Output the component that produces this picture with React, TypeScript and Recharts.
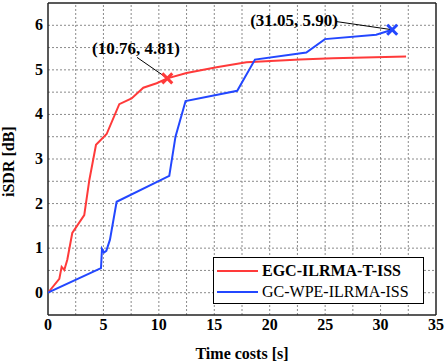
import {
  ComposedChart,
  Line,
  XAxis,
  YAxis,
  ReferenceDot,
  ReferenceLine,
} from "recharts";

const redX = [0, 1.02, 1.23, 1.47, 1.74, 2.19, 3.27, 3.73, 4.33, 5.29, 6.43, 7.54, 8.6, 9.8, 10.76, 12.5, 15.2, 17.9, 22.7, 25.7, 32.3];
const redY = [0, 0.31, 0.58, 0.51, 0.74, 1.34, 1.74, 2.53, 3.32, 3.56, 4.23, 4.36, 4.6, 4.7, 4.81, 4.93, 5.06, 5.17, 5.23, 5.26, 5.3];

const blueX = [0, 4.78, 4.87, 5.05, 5.26, 5.59, 6.19, 10.94, 11.5, 12.41, 17.07, 18.67, 23.3, 24.98, 29.6, 31.05];
const blueY = [0, 0.55, 0.98, 0.9, 0.94, 1.19, 2.04, 2.62, 3.5, 4.3, 4.53, 5.23, 5.39, 5.69, 5.79, 5.9];

const xTicks = [0, 5, 10, 15, 20, 25, 30, 35];
const yTicks = [0, 1, 2, 3, 4, 5, 6];
const xGrid = [2.5, 5, 7.5, 10, 12.5, 15, 17.5, 20, 22.5, 25, 27.5, 30, 32.5];
const yGrid = [0, 0.5, 1, 1.5, 2, 2.5, 3, 3.5, 4, 4.5, 5, 5.5, 6];
const X_DOMAIN = [0, 35];
const Y_DOMAIN = [-0.5, 6.5];

const seriesNames = ["EGC-ILRMA-T-ISS", "GC-WPE-ILRMA-ISS"];
const highlights = [
  { x: 10.76, y: 4.81, label: "(10.76, 4.81)", lx: 7.93, ly: 5.46, ax: 8.03, ay: 5.28 },
  { x: 31.05, y: 5.9, label: "(31.05, 5.90)", lx: 22.2, ly: 6.085, ax: 25.97, ay: 6.085 },
];

const RED = "#ff3a3a";
const BLUE = "#2347ff";
const GRID = "#8a8a8a";
const FONT = "Liberation Serif";
const txt = { fontFamily: FONT, fontWeight: 700, fontSize: 16 };

const redData = redX.map((x, i) => ({ x, y: redY[i] }));
const blueData = blueX.map((x, i) => ({ x, y: blueY[i] }));

// grid drawn as two-point line series so they go through the chart scales
const gridRows = [
  ...xGrid.map((t) => [{ x: t, y: Y_DOMAIN[0] }, { x: t, y: Y_DOMAIN[1] }]),
  ...yGrid.map((t) => [{ x: X_DOMAIN[0], y: t }, { x: X_DOMAIN[1], y: t }]),
];

// frame edges of the plot area, in data units
const frame = [
  [{ x: X_DOMAIN[0], y: Y_DOMAIN[0] }, { x: X_DOMAIN[1], y: Y_DOMAIN[0] }],
  [{ x: X_DOMAIN[0], y: Y_DOMAIN[1] }, { x: X_DOMAIN[1], y: Y_DOMAIN[1] }],
  [{ x: X_DOMAIN[0], y: Y_DOMAIN[0] }, { x: X_DOMAIN[0], y: Y_DOMAIN[1] }],
  [{ x: X_DOMAIN[1], y: Y_DOMAIN[0] }, { x: X_DOMAIN[1], y: Y_DOMAIN[1] }],
];

function Cross({ cx, cy, color }: { cx?: number; cy?: number; color: string }) {
  if (cx == null || cy == null) return null;
  const s = 5;
  return (
    <g stroke={color} strokeWidth={3}>
      <line x1={cx - s} y1={cy - s} x2={cx + s} y2={cy + s} />
      <line x1={cx - s} y1={cy + s} x2={cx + s} y2={cy - s} />
    </g>
  );
}

function XTick(p: any) {
  return (
    <text x={p.x} y={p.y + 15} textAnchor="middle" fill="#000" style={txt}>
      {p.payload.value}
    </text>
  );
}

function YTick(p: any) {
  return (
    <text x={p.x - 5} y={p.y + 5} textAnchor="end" fill="#000" style={txt}>
      {p.payload.value}
    </text>
  );
}

function LegendBox() {
  const colors = [RED, BLUE];
  return (
    <div
      style={{
        position: "absolute",
        left: 213,
        top: 257,
        border: "1.5px solid #000",
        background: "#fff",
        width: 211,
        height: 47,
        boxSizing: "border-box",
        fontSize: 16,
        color: "#000",
        padding: "2px 0 0 3px",
      }}
    >
      {seriesNames.map((n, i) => (
        <div key={n} style={{ display: "flex", alignItems: "center", height: 21, fontWeight: i === 0 ? "bold" : "normal", whiteSpace: "nowrap" }}>
          <span style={{ display: "inline-block", width: 41, height: 2, background: colors[i], marginRight: 4 }} />
          {n}
        </div>
      ))}
    </div>
  );
}

export default function App() {
  return (
    <div style={{ position: "absolute", left: 0, top: 0, width: 445, height: 364, background: "#fff", fontFamily: FONT }}>
      <ComposedChart width={445} height={364} margin={{ top: 3, right: 9, bottom: 0, left: 0 }}>
        <XAxis
          type="number"
          dataKey="x"
          domain={X_DOMAIN}
          ticks={xTicks}
          allowDataOverflow
          tickLine={false}
          axisLine={false}
          tickSize={0}
          tickMargin={0}
          height={49}
          tick={<XTick />}
          label={{ value: "Time costs [s]", position: "insideBottom", offset: 5, fill: "#000", style: txt }}
        />
        <YAxis
          type="number"
          domain={Y_DOMAIN}
          ticks={yTicks}
          allowDataOverflow
          tickLine={false}
          axisLine={false}
          tickSize={0}
          tickMargin={0}
          width={48}
          tick={<YTick />}
          label={{ value: "iSDR [dB]", angle: -90, position: "insideLeft", offset: 8, dy: 38, fill: "#000", style: txt }}
        />
        {gridRows.map((d, i) => (
          <Line
            key={"g" + i}
            data={d}
            dataKey="y"
            type="linear"
            stroke={GRID}
            strokeWidth={1}
            strokeDasharray="2 2"
            dot={false}
            activeDot={false}
            legendType="none"
            isAnimationActive={false}
          />
        ))}
        {frame.map((seg, i) => (
          <ReferenceLine key={"f" + i} segment={seg} stroke="#222" strokeWidth={1.5} ifOverflow="visible" />
        ))}
        <Line data={redData} dataKey="y" type="linear" stroke={RED} strokeWidth={2} dot={false} isAnimationActive={false} name={seriesNames[0]} />
        <Line data={blueData} dataKey="y" type="linear" stroke={BLUE} strokeWidth={2} dot={false} isAnimationActive={false} name={seriesNames[1]} />
        {highlights.map((h, i) => (
          <ReferenceLine
            key={"l" + i}
            segment={[
              { x: h.ax, y: h.ay },
              { x: h.x, y: h.y },
            ]}
            stroke="#000"
            strokeWidth={1}
          />
        ))}
        {highlights.map((h, i) => (
          <ReferenceDot key={"c" + i} x={h.x} y={h.y} r={5} shape={(p: any) => <Cross cx={p.cx} cy={p.cy} color={i === 0 ? RED : BLUE} />} />
        ))}
        {highlights.map((h, i) => (
          <ReferenceDot
            key={"t" + i}
            x={h.lx}
            y={h.ly}
            r={1}
            shape={(p: any) => (
              <text x={p.cx} y={p.cy + 5} textAnchor="middle" fill="#000" style={{ ...txt, fontSize: 17 }}>
                {h.label}
              </text>
            )}
          />
        ))}
      </ComposedChart>
      <LegendBox />
    </div>
  );
}
